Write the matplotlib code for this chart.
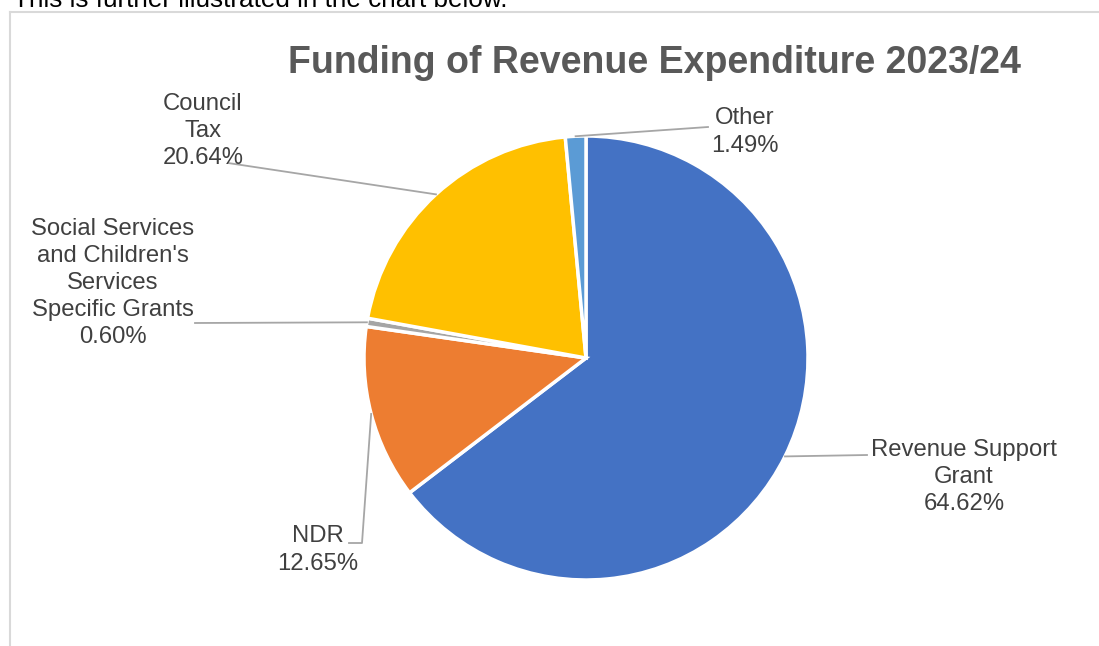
import numpy as np
import matplotlib.pyplot as plt

plt.rcParams['font.family'] = ['Liberation Sans', 'DejaVu Sans']

labels = ['Revenue Support\nGrant', 'NDR', "Social Services\nand Children's\nServices\nSpecific Grants",
          'Council\nTax', 'Other']
shares = [64.62, 12.65, 0.60, 20.64, 1.49]
colors = ['#4472C4', '#ED7D31', '#A5A5A5', '#FFC000', '#5B9BD5']

W, H = 1099, 646
fig = plt.figure(figsize=(W / 100, H / 100), dpi=100)
ax = fig.add_axes([0, 0, 1, 1])

cx, cy, r = 586, H - 358, 222
wedges, _ = ax.pie(shares, colors=colors, startangle=90, counterclock=False,
                   center=(cx, cy), radius=r, frame=True,
                   wedgeprops=dict(edgecolor='white', linewidth=2.5))
ax.set_xlim(0, W)
ax.set_ylim(0, H)
ax.set_aspect('equal')
ax.axis('off')

# anchor points on the rim, at the middle of each wedge
anchors = []
for w in wedges:
    a = np.deg2rad((w.theta1 + w.theta2) / 2)
    anchors.append((cx + r * np.cos(a), cy + r * np.sin(a)))

txt = dict(color='#404040', fontsize=17.2, linespacing=1.3)
lc = '#A6A6A6'

# Revenue Support Grant
ax.plot([anchors[0][0], 867], [anchors[0][1], H - 455], color=lc, lw=1.3)
ax.text(964, H - 477, labels[0] + '\n%.2f%%' % shares[0], ha='center', va='center', **txt)
# NDR
ax.plot([anchors[1][0], 362, 349], [anchors[1][1], H - 543, H - 543], color=lc, lw=1.3)
ax.text(318, H - 550, labels[1] + '\n%.2f%%' % shares[1], ha='center', va='center', **txt)
# Social Services
ax.plot([anchors[2][0], 195], [anchors[2][1], H - 323], color=lc, lw=1.3)
ax.text(113, H - 283, labels[2] + '\n%.2f%%' % shares[2], ha='center', va='center', **txt)
# Council Tax
ax.plot([anchors[3][0], 228], [anchors[3][1], H - 163], color=lc, lw=1.3)
ax.text(203, H - 131, labels[3] + '\n%.2f%%' % shares[3], ha='center', va='center', **txt)
# Other
ax.plot([anchors[4][0], 708], [anchors[4][1], H - 127], color=lc, lw=1.3)
ax.text(745, H - 132, labels[4] + '\n%.2f%%' % shares[4], ha='center', va='center', **txt)

ax.text(654, H - 63, 'Funding of Revenue Expenditure 2023/24', ha='center', va='center',
        fontsize=27, fontweight='bold', color='#595959')

# chart frame and the clipped sentence above it
ax.plot([10, W], [H - 12, H - 12], color='#D9D9D9', lw=1.5)
ax.plot([10, 10], [H - 12, 0], color='#D9D9D9', lw=1.5)
ax.text(13, H - 7, 'This is further illustrated in the chart below.', ha='left', va='baseline',
        fontsize=18.8, color='black')

fig.savefig('out.png', dpi=100)
